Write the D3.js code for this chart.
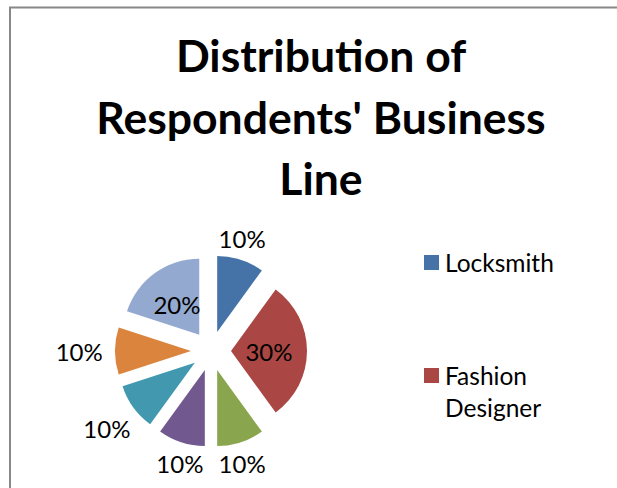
<!DOCTYPE html>
<html><head><meta charset="utf-8">
<script src="https://cdn.jsdelivr.net/npm/d3@7"></script>
<style>html,body{margin:0;padding:0;background:#fff;overflow:hidden}</style>
</head><body>
<script>
// ---- data ----
const categories = ["Locksmith", "Fashion Designer", "Category 3", "Category 4", "Category 5", "Category 6", "Category 7"];
const values = [10, 30, 10, 10, 10, 10, 20];
const colors = ["#4572A7", "#AA4643", "#89A54E", "#71588F", "#4198AF", "#DB843D", "#93A9CF"];
const titleLines = ["Distribution of", "Respondents' Business", "Line"];
const legendShown = 2; // entries visible inside the frame

const W = 617, H = 488;
const svg = d3.select("body").append("svg").attr("width", W).attr("height", H);

// chart frame (extends past the window on right/bottom)
svg.append("rect").attr("x", 10).attr("y", 7.5).attr("width", 800).attr("height", 800)
  .attr("fill", "#fff").attr("stroke", "#888").attr("stroke-width", 2);

// title
const font = "Lato, 'Open Sans', sans-serif";
const titleY = d3.scaleLinear().domain([0, titleLines.length - 1]).range([72, 195]);
svg.append("g").selectAll("text").data(titleLines).join("text")
  .attr("x", 321).attr("y", (d, i) => titleY(i))
  .attr("text-anchor", "middle")
  .style("font-family", font).style("font-weight", "bold").style("font-size", "44.5px")
  .attr("fill", "#000").text(d => d);

// pie
const cx = 211, cy = 351, r = 76, explode = 20, gap = 10;
const total = d3.sum(values);
const pie = d3.pie().sort(null).value(d => d)(values);
const arc = d3.arc().innerRadius(0).outerRadius(r);
const g = svg.append("g").attr("transform", `translate(${cx},${cy})`);
const mid = d => (d.startAngle + d.endAngle) / 2;
const off = d => [Math.sin(mid(d)) * explode, -Math.cos(mid(d)) * explode];

g.selectAll("path").data(pie).join("path")
  .attr("d", arc)
  .attr("transform", d => `translate(${off(d)[0]},${off(d)[1]})`)
  .attr("fill", (d, i) => colors[i]);

// labels
const fmt = d => Math.round(d.value / total * 100) + "%";
const lw = 44, lh = 22;
g.selectAll("text.lbl").data(pie).join("text").attr("class", "lbl")
  .each(function (d) {
    const a = mid(d), ux = Math.sin(a), uy = -Math.cos(a);
    let x, y;
    if (d.value / total >= 0.2) {
      const c = arc.centroid(d);
      x = c[0] + off(d)[0]; y = c[1] + off(d)[1];
    } else {
      const ext = Math.sqrt((ux * lw / 2) ** 2 + (uy * lh / 2) ** 2);
      const L = r + explode + gap + ext;
      // Excel keeps near-vertical labels centred over the slice tip
      x = ux * L * (Math.abs(uy) > 0.9 ? 0.85 : 1.03); y = uy * L * (Math.abs(uy) > 0.9 ? 1 : 1.06);
    }
    d3.select(this).attr("x", x).attr("y", y);
  })
  .attr("text-anchor", "middle").attr("dominant-baseline", "central")
  .style("font-family", font).style("font-size", "24px").attr("fill", "#000")
  .text(fmt);

// legend
const legY = d3.scaleLinear().domain([0, 1]).range([262.5, 375.5]);
const leg = svg.append("g").selectAll("g").data(categories.slice(0, legendShown)).join("g")
  .attr("transform", (d, i) => `translate(424,${legY(i)})`);
leg.append("rect").attr("x", 0).attr("y", -7.5).attr("width", 15).attr("height", 15)
  .attr("fill", (d, i) => colors[i]);
leg.append("text").attr("x", 21).attr("y", 9)
  .style("font-family", font).style("font-size", "24.5px").attr("fill", "#000")
  .each(function (d) {
    const t = d3.select(this);
    const words = d.split(" ");
    const maxW = 125;
    let line = [];
    let ts = t.append("tspan").attr("x", 21).attr("dy", 0);
    words.forEach(w => {
      line.push(w);
      ts.text(line.join(" "));
      if (ts.node().getComputedTextLength() > maxW && line.length > 1) {
        line.pop(); ts.text(line.join(" "));
        line = [w];
        ts = t.append("tspan").attr("x", 21).attr("dy", 32).text(w);
      }
    });
  });
</script>
</body></html>
